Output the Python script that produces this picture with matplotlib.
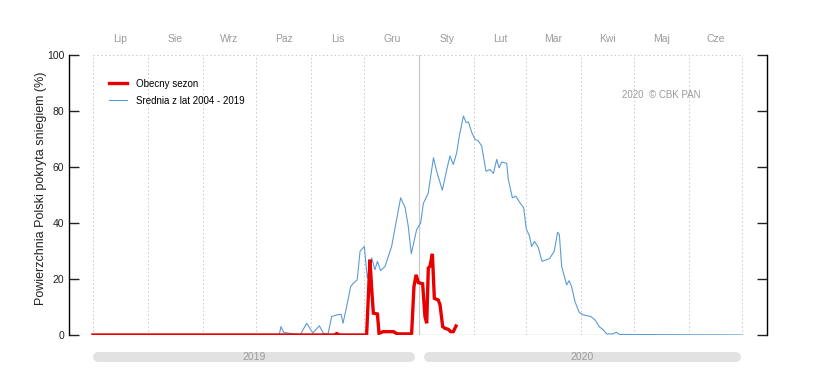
import numpy as np
import matplotlib
matplotlib.use("Agg")
import matplotlib.pyplot as plt
from matplotlib.transforms import blended_transform_factory

plt.rcParams['font.family'] = ['Liberation Sans', 'DejaVu Sans']

# dni liczone od 1 lipca 2019
miesiace = ["Lip", "Sie", "Wrz", "Paz", "Lis", "Gru",
            "Sty", "Lut", "Mar", "Kwi", "Maj", "Cze"]
poczatki = [0, 31, 62, 92, 123, 153, 184, 215, 244, 275, 305, 336, 366]
lata = ["2019", "2020"]

srednia_dzien = [0, 105, 106, 107.5, 110, 114, 117, 120.5, 124, 127.6, 130, 132.5,
                 134.6, 137.4, 139.9, 141, 143, 145.3, 146.8, 149, 150.6, 153,
                 154.7, 157.2, 159, 160.4, 162.2, 164.7, 168.4, 171.2, 173.5,
                 176, 177.8, 179.5, 182.5, 184.8, 186.3, 189, 192, 193.8, 197,
                 199.5, 201.3, 203.2, 205.1, 206.6, 208.9, 210.4, 211.7, 213.6,
                 215.4, 217.3, 219.2, 221.6, 223.9, 225.8, 227.7, 229, 230.5,
                 233.3, 234.2, 236.5, 238.4, 240.8, 242.9, 244.3, 246.2, 247.4,
                 249, 251.1, 253.2, 257.5, 260.1, 262, 263, 264.3, 267.1, 268.5,
                 269.9, 271.8, 274.3, 276.5, 280.7, 283.1, 285.5, 287.8, 289.7,
                 293.4, 295, 296.8, 366]
srednia = [0, 0, 3, 1, 0.7, 0.3, 0.2, 4.2, 0.7, 3.3, 0.6, 0.3,
           6.6, 7.2, 7.4, 4.2, 10, 17.3, 18.5, 19.7, 29.9, 31.6,
           20.3, 27.5, 23.3, 26.3, 23, 24.5, 31.6, 41.2, 49,
           45.5, 38.8, 29, 37.6, 40, 47, 50.5, 63.3, 58.5, 51.7,
           59.1, 63.9, 60.9, 65.1, 71.1, 78.2, 75.9, 76.1, 72.3,
           69.9, 69.3, 67.5, 58.5, 59.1, 57.7, 62.7, 59.7, 61.8,
           61.3, 55.6, 49, 49.6, 47.2, 45.4, 38, 35.2, 31.6,
           33.4, 31.3, 26.3, 27.3, 29.9, 36.7, 35.8, 24.5, 17.9, 19.4,
           17.3, 11.9, 8, 7.2, 6.6, 5.4, 3, 1.8, 0.4,
           0.4, 1, 0.2, 0]

sezon_dzien = [0, 136, 137.5, 139, 154.3, 156.2, 157.2, 158.1, 160.4, 161.3,
               163.7, 169.4, 171.6, 178.8, 179.7, 181, 182.2, 183.5, 185.9,
               187.2, 188.2, 189.1, 190, 191.4, 192.5, 194.7, 195.7, 197.2,
               198.5, 200.4, 201.7, 203.2, 204.7]
sezon = [0, 0, 0.5, 0, 0, 26.9, 16.1, 7.8, 7.5, 0.6,
         1.2, 1.2, 0.4, 0.4, 0.6, 17.3, 21.5, 18.7, 18.3,
         6.6, 4.2, 23.9, 24.5, 29, 13.1, 12.5, 10.8, 3,
         2.4, 2, 1.2, 1.2, 3.2]

szary = "#9a9a9a"
siatka = "#c8c8c8"

fig = plt.figure(figsize=(8.14, 3.92), dpi=100)
ax = fig.add_axes([69 / 814, 1 - 335 / 392, (767 - 69) / 814, (335 - 55) / 392])

# 93 px -> dzien 0, 742 px -> dzien 366
px_dzien = (742 - 93) / 366
ax.set_xlim(-24 / px_dzien, 366 + 25 / px_dzien)
ax.set_ylim(0, 100)

# siatka miesieczna
for d in poczatki:
    if d == 184:
        ax.axvline(d, color=siatka, lw=0.9, zorder=1)
    else:
        ax.plot([d, d], [0, 100], color=siatka, lw=0.7, ls=(0, (1.5, 2.5)), zorder=1)
ax.plot([0, 366], [100, 100], color=siatka, lw=0.7, ls=(0, (1.5, 2.5)), zorder=1)
ax.plot([0, 366], [0, 0], color="#d0d0d0", lw=1.0, zorder=1)

ax.plot(srednia_dzien, srednia, color="#5b9bd5", lw=0.8, zorder=3,
        label="Srednia z lat 2004 - 2019")
ax.plot(sezon_dzien, sezon, color="#e80000", lw=2.4, zorder=4,
        solid_joinstyle="miter", label="Obecny sezon")

# osie
for s in ["top", "bottom"]:
    ax.spines[s].set_visible(False)
ax.spines["left"].set_linewidth(1.0)
ax.spines["right"].set_linewidth(1.0)
ax.set_xticks([])
ax.set_yticks(range(0, 101, 20))
ax.tick_params(axis="y", direction="in", length=7, width=1.0, labelsize=7.5,
               right=True, labelright=False, pad=3.5, colors="#222222")
ax.set_ylabel("Powierzchnia Polski pokryta sniegiem (%)", fontsize=9,
              color="#222222")
ax.yaxis.set_label_coords(-0.0315, 0.523)

# nazwy miesiecy u gory
tr = blended_transform_factory(ax.transData, fig.transFigure)
for i, m in enumerate(miesiace):
    srodek = (poczatki[i] + poczatki[i + 1]) / 2
    ax.text(srodek, 1 - 39 / 392, m, transform=tr, ha="center", va="center",
            fontsize=7.5, color=szary)

# paski lat na dole
y_pasek = 1 - 357 / 392
zakresy = [(0, (415 - 93) / px_dzien), ((424 - 93) / px_dzien, (741 - 93) / px_dzien)]
cap = 5 / px_dzien
for rok, (a, b) in zip(lata, zakresy):
    ax.plot([a + cap, b - cap], [y_pasek, y_pasek], transform=tr, color="#e2e2e2",
            lw=7.2, solid_capstyle="round", clip_on=False, zorder=0)
    ax.text((a + b) / 2, y_pasek, rok, transform=tr, ha="center", va="center",
            fontsize=7.5, color=szary)

h, l = ax.get_legend_handles_labels()
leg = ax.legend(h[::-1], l[::-1], loc="upper left", bbox_to_anchor=(0.045, 0.947),
                frameon=False, fontsize=7, handlelength=1.8, labelspacing=0.75,
                handletextpad=1.0)

ax.text(700 / 814, 1 - 95 / 392, "2020  \u00a9 CBK PAN", transform=fig.transFigure,
        ha="right", va="center", fontsize=7, color=szary)

plt.savefig("out.png", dpi=100)
plt.close()
